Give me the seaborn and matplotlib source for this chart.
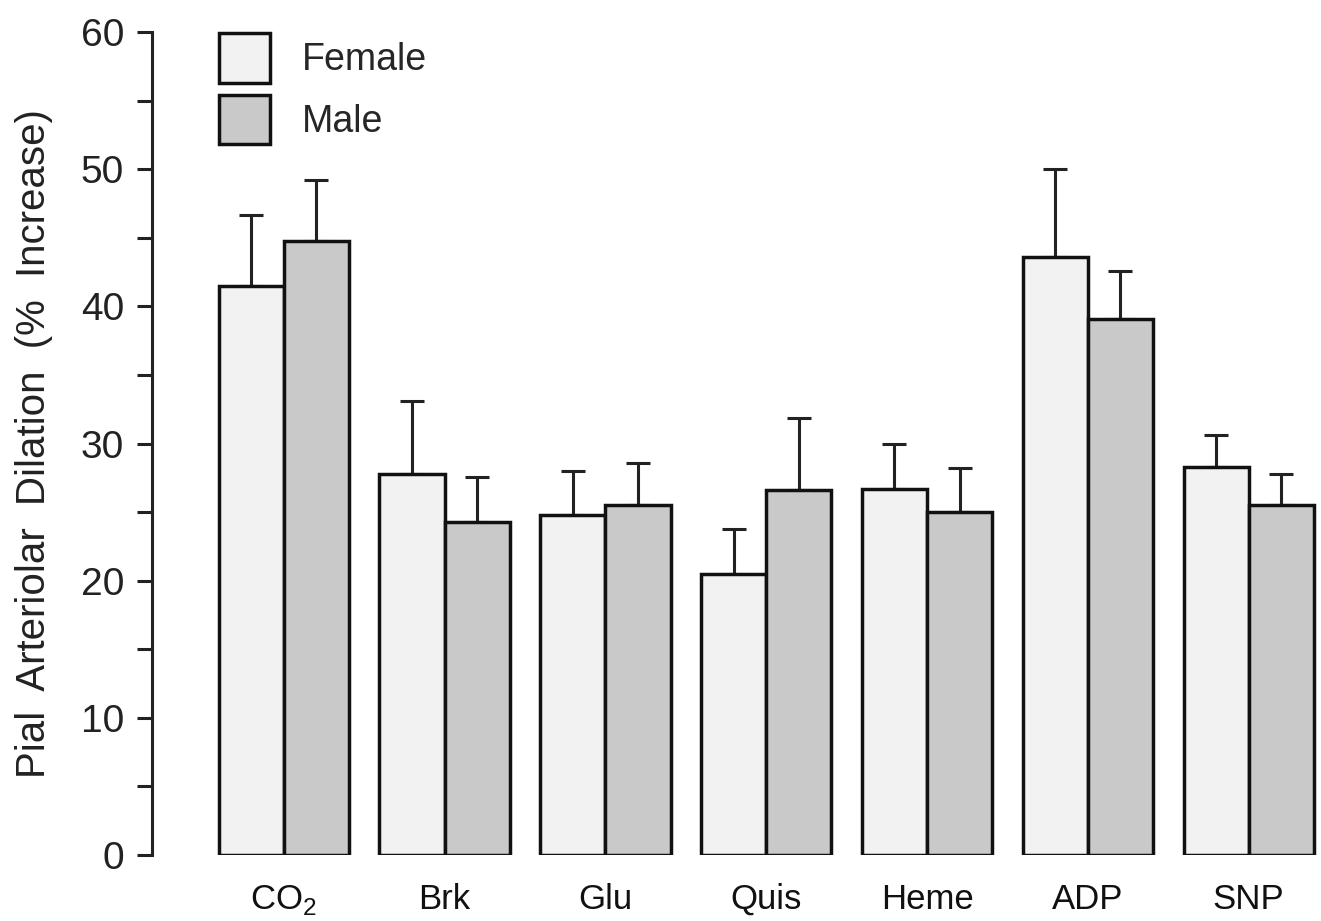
import matplotlib
matplotlib.use("Agg")
import matplotlib.pyplot as plt
import seaborn as sns
import pandas as pd
import numpy as np

categories = ["CO$_\\mathregular{2}$", "Brk", "Glu", "Quis", "Heme", "ADP", "SNP"]
groups = ["Female", "Male"]
female_mean = [41.5, 27.8, 24.8, 20.5, 26.7, 43.6, 28.3]
female_top = [46.7, 33.1, 28.0, 23.8, 30.0, 50.0, 30.6]
male_mean = [44.8, 24.3, 25.5, 26.6, 25.0, 39.1, 25.5]
male_top = [49.2, 27.6, 28.6, 31.9, 28.2, 42.6, 27.8]
colors = ["#f2f2f2", "#c9c9c9"]

sns.set_theme(style="white")
plt.rcParams["font.family"] = ["Liberation Sans", "DejaVu Sans"]
plt.rcParams["mathtext.fontset"] = "custom"
plt.rcParams["mathtext.rm"] = "Liberation Sans"

df = pd.DataFrame({
    "cat": categories * 2,
    "sex": ["Female"] * len(categories) + ["Male"] * len(categories),
    "val": female_mean + male_mean,
})

fig = plt.figure(figsize=(13.21, 9.21), dpi=100)
ax = fig.add_axes([0.115, 0.0717, 0.885, 0.8933])

sns.barplot(data=df, x="cat", y="val", hue="sex", hue_order=groups,
            palette=colors, width=0.81, edgecolor="#111111", linewidth=2.5,
            errorbar=None, saturation=1, ax=ax, zorder=2)

tops = [female_top, male_top]
means = [female_mean, male_mean]
for cont, m, t in zip(ax.containers, means, tops):
    xs = [p.get_x() + p.get_width() / 2 for p in cont.patches]
    m = np.array(m)
    t = np.array(t)
    ax.errorbar(xs, m, yerr=[np.zeros_like(m), t - m], fmt="none",
                ecolor="#222222", elinewidth=2.2, capsize=8.5, capthick=2.2, zorder=1)

ax.set_ylim(0, 60)
ax.set_xlim(-0.82, 6.45)
ax.set_yticks(np.arange(0, 61, 10))
ax.set_yticks(np.arange(5, 60, 10), minor=True)
for s in ["top", "right", "bottom"]:
    ax.spines[s].set_visible(False)
ax.spines["left"].set_linewidth(2.2)
ax.spines["left"].set_color("#222222")
ax.tick_params(axis="y", which="both", left=True, length=11, width=2.2,
               color="#222222", labelsize=28, pad=9, labelcolor="#222222")
ax.tick_params(axis="x", bottom=False, labelsize=25, pad=14, labelcolor="#111111")
ax.set_xlabel("")
ax.set_ylabel("Pial  Arteriolar  Dilation  (%  Increase)", fontsize=29, color="#222222")
ax.yaxis.set_label_coords(-0.085, 0.5)

leg = ax.legend(loc="upper left", bbox_to_anchor=(0.0447, 1.017), frameon=False,
                fontsize=27, handlelength=1.35, handleheight=1.65,
                labelspacing=0.32, handletextpad=0.86, borderaxespad=0)
for h in leg.legend_handles:
    h.set_edgecolor("#111111")
    h.set_linewidth(2.5)

fig.savefig("out.png", dpi=100)
